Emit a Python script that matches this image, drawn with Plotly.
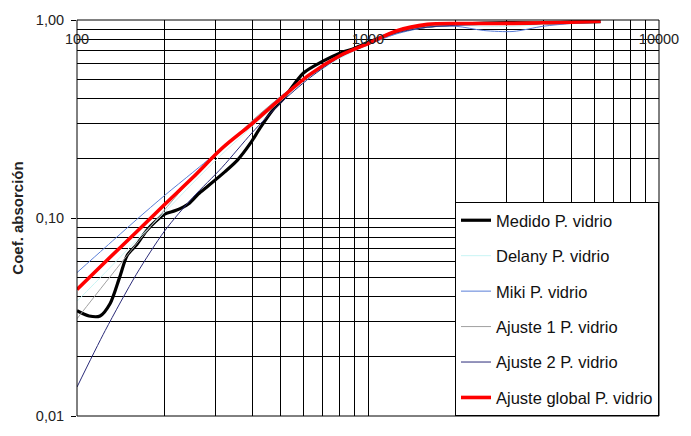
import plotly.graph_objects as go

# ---------------- data ----------------
freq_fit = [100, 125, 160, 200, 250, 315, 400, 500, 630, 800, 1000,
            1250, 1600, 2000, 2500, 3150, 4000, 5000, 6300]

freq_medido = [100, 110, 120, 130, 140, 149, 160, 173, 186, 201, 218, 242,
               261, 282, 322, 356, 394, 426, 475, 512, 600, 700, 800, 900,
               1000, 1250, 1600, 2000, 2500, 3150, 4000, 5000, 6300]
medido = [0.034, 0.032, 0.032, 0.037, 0.050, 0.065, 0.073, 0.086, 0.096,
          0.105, 0.109, 0.118, 0.132, 0.145, 0.171, 0.196, 0.238, 0.285,
          0.357, 0.400, 0.540, 0.620, 0.680, 0.720, 0.770, 0.870, 0.930,
          0.950, 0.965, 0.970, 0.965, 0.975, 0.980]

delany = [0.038, 0.053, 0.077, 0.107, 0.150, 0.210, 0.290, 0.390, 0.510,
          0.640, 0.750, 0.850, 0.920, 0.940, 0.930, 0.930, 0.950, 0.970, 0.980]
miki = [0.053, 0.071, 0.098, 0.130, 0.170, 0.225, 0.305, 0.410, 0.520,
        0.650, 0.750, 0.850, 0.920, 0.930, 0.885, 0.875, 0.930, 0.960, 0.975]
ajuste1 = [0.031, 0.047, 0.074, 0.110, 0.160, 0.220, 0.310, 0.410, 0.530,
           0.660, 0.760, 0.860, 0.930, 0.950, 0.950, 0.950, 0.960, 0.970, 0.980]
ajuste2 = [0.014, 0.027, 0.052, 0.086, 0.127, 0.180, 0.270, 0.380, 0.510,
           0.650, 0.760, 0.860, 0.920, 0.940, 0.950, 0.950, 0.960, 0.970, 0.975]
ajuste_global = [0.0435, 0.060, 0.085, 0.117, 0.160, 0.225, 0.300, 0.400,
                 0.530, 0.660, 0.760, 0.880, 0.950, 0.960, 0.960, 0.962,
                 0.968, 0.975, 0.985]

x_tick_vals = [100, 1000, 10000]
x_tick_text = ["100", "1000", "10000"]
x_minor = [200, 300, 400, 500, 600, 700, 800, 900,
           2000, 3000, 4000, 5000, 6000, 7000, 8000, 9000]
y_tick_vals = [0.01, 0.1, 1.0]
y_tick_text = ["0,01", "0,10", "1,00"]
y_minor = [0.02, 0.03, 0.04, 0.05, 0.06, 0.07, 0.08, 0.09,
           0.2, 0.3, 0.4, 0.5, 0.6, 0.7, 0.8, 0.9]

FONT = "Liberation Sans, Arial, sans-serif"

series = [
    ("Medido P. vidrio", freq_medido, medido, "#000000", 3.2),
    ("Delany P. vidrio", freq_fit, delany, "#C8F4F4", 1),
    ("Miki P. vidrio", freq_fit, miki, "#5A7ED8", 1),
    ("Ajuste 1 P. vidrio", freq_fit, ajuste1, "#A0A0A0", 1),
    ("Ajuste 2 P. vidrio", freq_fit, ajuste2, "#2A2A78", 1),
    ("Ajuste global P. vidrio", freq_fit, ajuste_global, "#FF0000", 3.6),
]

fig = go.Figure()
for i, (name, fx, fy, col, w) in enumerate(series):
    fig.add_trace(go.Scatter(
        x=fx, y=fy, name=name, mode="lines",
        line=dict(color=col, width=w, shape="spline", smoothing=0.8),
        legendgroup=f"g{i}",
    ))

fig.update_layout(
    width=691, height=436,
    margin=dict(l=77, r=22, t=16, b=13),
    paper_bgcolor="white", plot_bgcolor="white",
    font=dict(family=FONT, color="#222222", size=14.5),
    showlegend=True,
    legend=dict(
        x=1, xanchor="right", y=0, yanchor="bottom",
        bgcolor="white", bordercolor="black", borderwidth=1,
        font=dict(family=FONT, size=16.5, color="#111111"),
        tracegroupgap=11,
    ),
    xaxis=dict(
        type="log", range=[2, 4],
        tickmode="array", tickvals=x_tick_vals, ticktext=x_tick_text,
        showgrid=True, gridcolor="black", gridwidth=1,
        minor=dict(tickmode="array", tickvals=x_minor, showgrid=True,
                   gridcolor="black", gridwidth=1, ticks=""),
        ticks="", showline=False, zeroline=False,
        anchor="free", position=0.978,
        tickfont=dict(size=14.5, color="#222222"),
    ),
    yaxis=dict(
        type="log", range=[-2, 0],
        tickmode="array", tickvals=y_tick_vals, ticktext=y_tick_text,
        showgrid=True, gridcolor="black", gridwidth=1,
        minor=dict(tickmode="array", tickvals=y_minor, showgrid=True,
                   gridcolor="black", gridwidth=1, ticks=""),
        ticks="outside", ticklen=5, tickcolor="black", tickwidth=1,
        ticklabelstandoff=4,
        showline=False, zeroline=False,
        tickfont=dict(size=14.5, color="#222222"),
        title=dict(text="<b>Coef. absorción</b>", standoff=8,
                   font=dict(size=15, family=FONT, color="#222222")),
    ),
    shapes=[dict(type="rect", xref="paper", yref="paper",
                 x0=0, x1=1, y0=0, y1=1,
                 line=dict(color="black", width=1), layer="above")],
)

fig.write_html("out.html")
